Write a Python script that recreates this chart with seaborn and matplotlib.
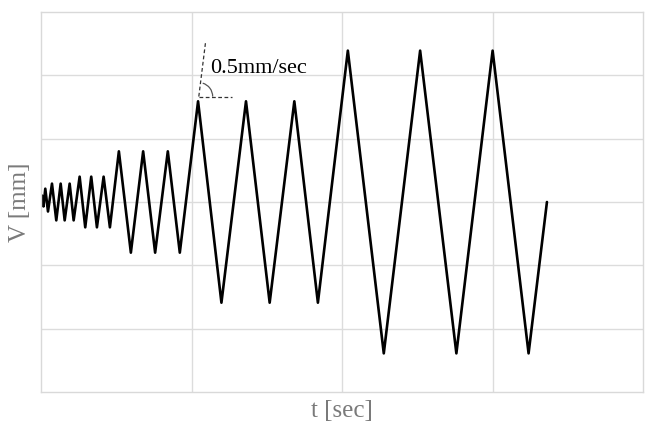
import matplotlib
matplotlib.use("Agg")
import matplotlib.pyplot as plt
from matplotlib.patches import Arc
import seaborn as sns
import pandas as pd

# turning points of the loading protocol
t_points = [0.000, 0.008, 0.0166, 0.0285, 0.0464,
            0.0729, 0.1015, 0.1306, 0.1572, 0.1903, 0.2168,
            0.2566, 0.2938, 0.3336, 0.3714, 0.4158, 0.4576,
            0.5172, 0.5968, 0.6784, 0.7580, 0.8422, 0.9218,
            1.0431, 1.1983, 1.3614, 1.5186, 1.6824, 1.8389,
            2.0378, 2.2765, 2.5179, 2.7586, 2.9993, 3.2381, 3.3601]
v_points = [0.0, 0.10, -0.07, 0.21, -0.15,
            0.29, -0.29, 0.29, -0.29, 0.29, -0.29,
            0.40, -0.40, 0.40, -0.40, 0.40, -0.40,
            0.80, -0.80, 0.80, -0.80, 0.80, -0.80,
            1.59, -1.59, 1.59, -1.59, 1.59, -1.59,
            2.39, -2.39, 2.39, -2.39, 2.39, -2.39, 0.0]

x_grid = [1, 2, 3]
y_grid = [-2, -1, 0, 1, 2]
rate_label = "0.5mm/sec"

df = pd.DataFrame({"t": t_points, "V": v_points})

sns.set_theme(style="whitegrid")
plt.rcParams["font.family"] = ["Liberation Serif", "DejaVu Serif"]

fig = plt.figure(figsize=(6.45, 4.22), dpi=100)
ax = fig.add_axes([41/645, 30/422, (643.3-41)/645, (392-12)/422])

sns.lineplot(data=df, x="t", y="V", sort=False, estimator=None,
             color="black", linewidth=1.9, ax=ax)

ax.set_xlim(0, 4)
ax.set_ylim(-3, 3)
ax.set_xticks(x_grid)
ax.set_yticks(y_grid)
ax.set_xticklabels([])
ax.set_yticklabels([])
ax.tick_params(length=0)
ax.grid(True, color="#dcdcdc", linewidth=1.0)
for s in ax.spines.values():
    s.set_color("#d9d9d9")
    s.set_linewidth(1.0)

ax.set_xlabel("t [sec]", fontsize=18, color="#7a7a7a", labelpad=2)
ax.set_ylabel("V [mm]", fontsize=18, color="#7a7a7a", labelpad=4)

# slope annotation
c_t, c_v = 1.048, 1.665
ax.plot([c_t, 1.094], [c_v, 2.546], color="#333333", linestyle=(0, (3, 2)), linewidth=0.9)
ax.plot([c_t, 1.267], [c_v, c_v], color="#333333", linestyle=(0, (3, 2)), linewidth=0.9)
ax.add_patch(Arc((c_t, c_v), width=2*0.092, height=2*0.22, theta1=0, theta2=83,
                 color="#555555", linewidth=0.9))
ax.text(1.125, 2.03, rate_label, fontsize=16, color="black", va="baseline", ha="left")

fig.savefig("out.png", dpi=100)
